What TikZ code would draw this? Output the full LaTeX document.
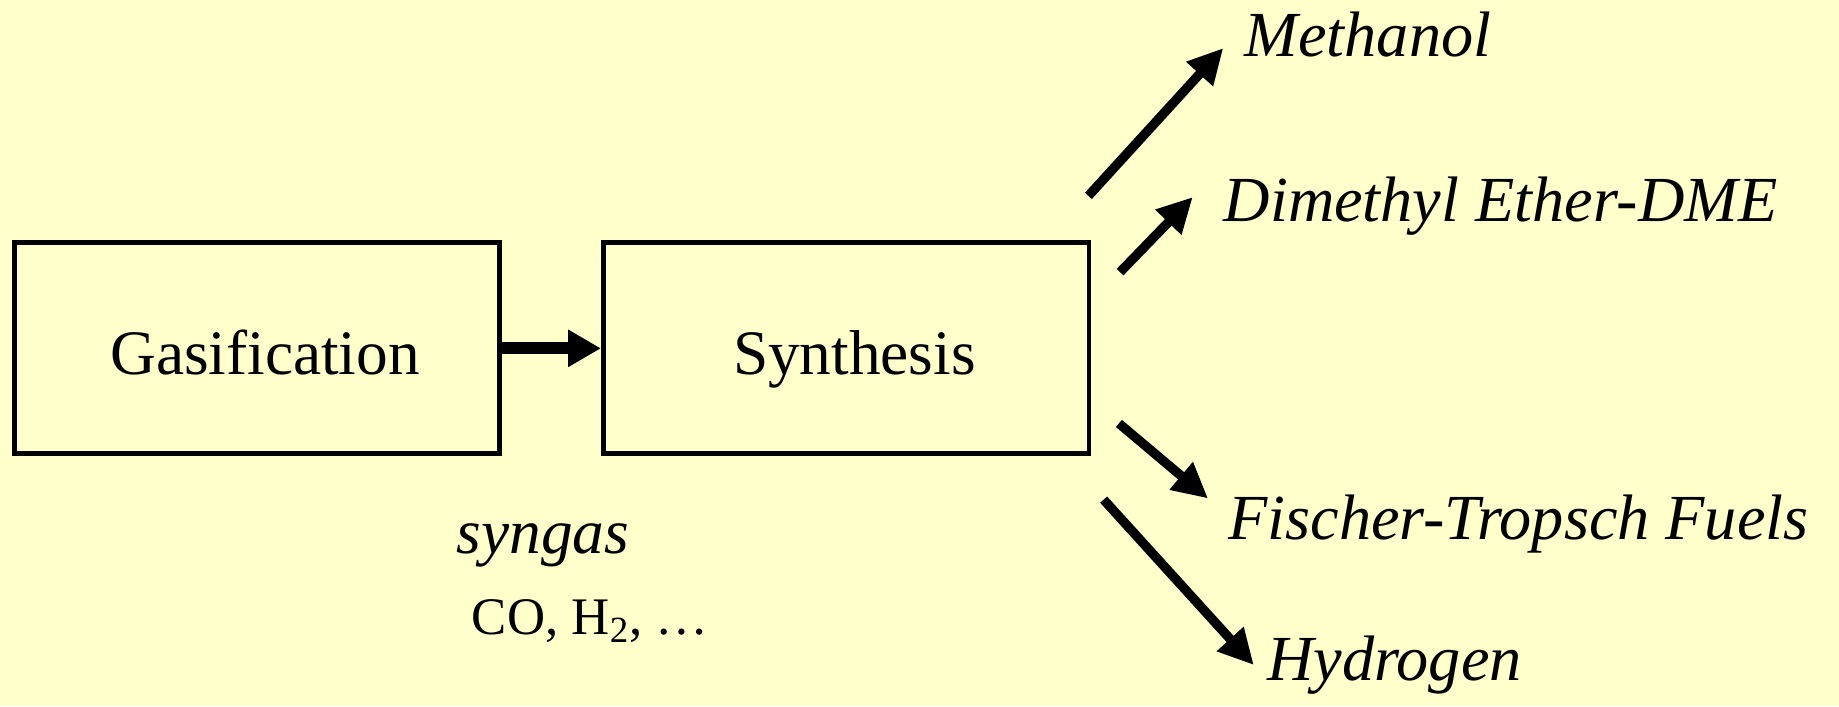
\documentclass[tikz,border=0pt]{standalone}
\usepackage{fontspec}
\setmainfont{Liberation Serif}
\usetikzlibrary{arrows.meta}
\definecolor{bg}{HTML}{FFFFCC}
\begin{document}
\begin{tikzpicture}[x=0.5pt,y=-0.5pt,
 box/.style={draw, line width=2.1pt, minimum width=207pt, minimum height=90pt, inner sep=0pt,
   text height=22pt, text depth=0pt, font=\fontsize{27}{32}\selectfont},
 arr/.style={line width=4pt, -{Triangle[length=15pt,width=14.5pt]}},
 harr/.style={line width=5.2pt, -{Triangle[length=14pt,width=15pt]}},
 prod/.style={anchor=base west, inner sep=0pt, font=\fontsize{27.4}{32}\selectfont\itshape},
 lbl/.style={anchor=base west, inner sep=0pt}]
\fill[bg] (0,0) rectangle (1568,602);
\useasboundingbox (0,0) rectangle (1568,602);
\node[box] (gas) at (219,297) {\hspace*{7pt}Gasification};
\node[box] (syn) at (721.5,297) {\hspace*{7pt}Synthesis};
\draw[harr] (gas.east) -- (syn.west);
% product labels
\node[prod] (meth) at (1061,48) {Methanol};
\node[prod] (dme) at (1043,189) {Dimethyl Ether-DME};
\node[prod] (ft) at (1047,460) {Fischer-Tropsch Fuels};
\node[prod] (hyd) at (1080,580) {Hydrogen};
% syngas labels
\node[lbl, font=\fontsize{27}{32}\selectfont\itshape] (sg) at (389,472) {syngas};
\node[lbl, font=\fontsize{22.5}{27}\selectfont] (co) at (402,541) {CO, H\textsubscript{2}, …};
% arrow ends
\coordinate (m0) at (928,167);
\coordinate (m1) at (1043,41);
\coordinate (d0) at (955,232);
\coordinate (d1) at (1017,168);
\coordinate (f0) at (954,361);
\coordinate (f1) at (1030,425);
\coordinate (h0) at (941,426);
\coordinate (h1) at (1069,567);
\draw[arr] (m0) -- (m1);
\draw[arr] (d0) -- (d1);
\draw[arr] (f0) -- (f1);
\draw[arr] (h0) -- (h1);
\end{tikzpicture}
\end{document}
